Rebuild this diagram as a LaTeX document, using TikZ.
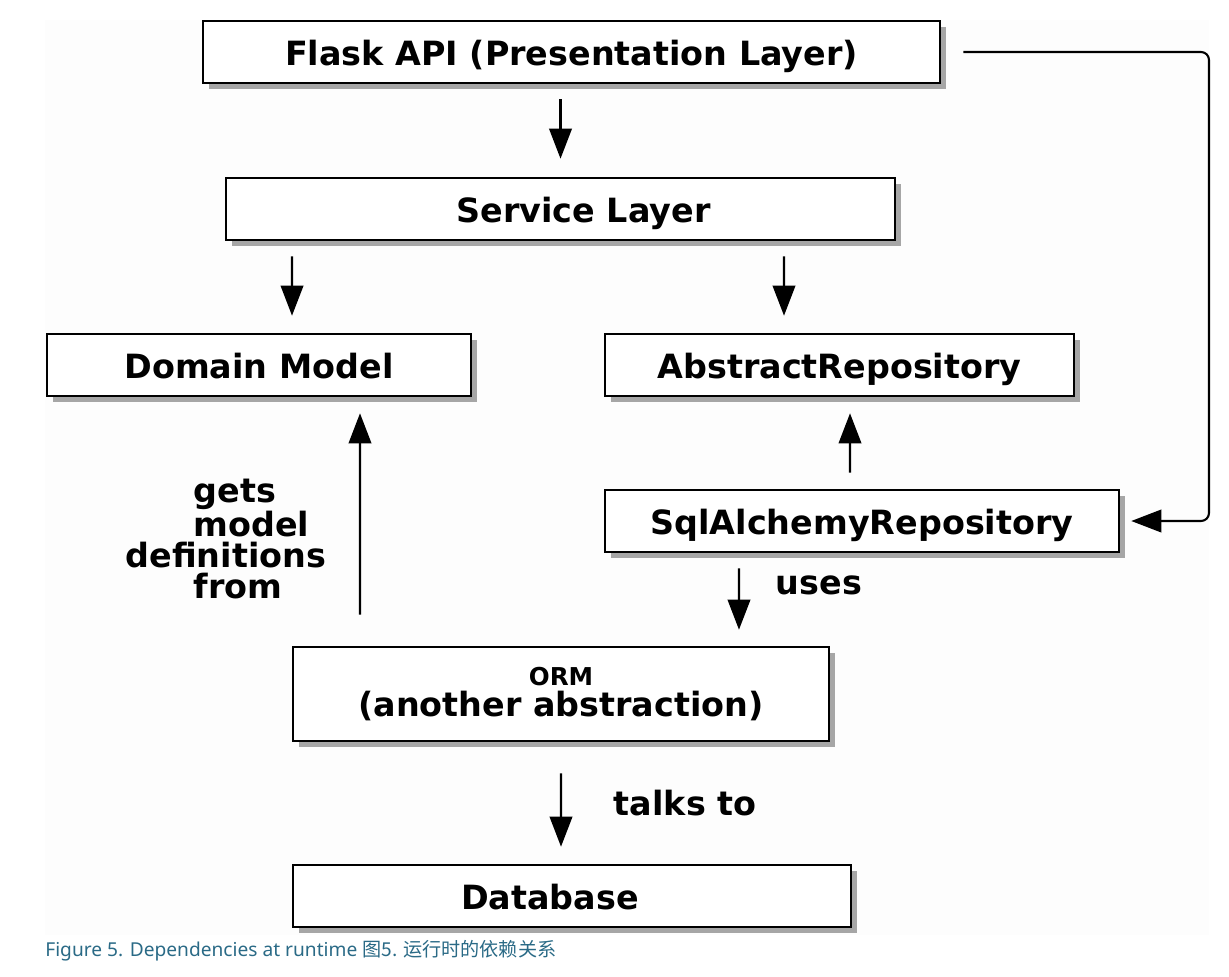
\documentclass[tikz,border=0pt]{standalone}
\usepackage{fontspec}
\setmainfont{DejaVu Sans}
\newfontfamily\capfont{Noto Sans}
\newfontfamily\cjk{Noto Sans CJK SC}
\usepackage{tikz}
\usetikzlibrary{arrows.meta, positioning, shadows}
\definecolor{captionteal}{RGB}{42,106,134}

\begin{document}
\begin{tikzpicture}[
  x=0.02cm, y=-0.02cm,
  box/.style={rectangle, draw, line width=1.5pt, fill=white, minimum height=1.24cm,
    text height=17.5pt, text depth=2.2pt, font=\fontsize{19}{21}\selectfont\bfseries,
    drop shadow={shadow xshift=0.12cm, shadow yshift=-0.12cm, fill=black!35, opacity=1}},
  arrow/.style={-{Triangle[length=0.6cm, width=0.45cm]}, line width=1.2pt},
  lbl/.style={font=\fontsize{19}{17.4}\selectfont\bfseries, align=left}
]
\useasboundingbox (0,0) rectangle (1229,976);
\fill[black!0.6] (45,20) rectangle (1209,935);

% Layers
\node[box, minimum width=14.74cm] (flask) at (571.5,52) {Flask API (Presentation Layer)};
\node[box, minimum width=13.38cm] (service) at (560.5,209) {\hspace*{0.92cm}Service Layer};
\node[box, minimum width=8.48cm] (domain) at (259,365) {Domain Model};
\node[box, minimum width=9.38cm] (absrepo) at (839.5,365) {AbstractRepository};
\node[box, minimum width=10.28cm] (sqlrepo) at (862,521) {SqlAlchemyRepository};
\node[box, minimum width=10.72cm, minimum height=1.88cm, text height=, text depth=, align=center] (orm) at (561,694)
  {{\fontsize{14}{16}\selectfont ORM}\\[-3pt](another abstraction)};
\node[box, minimum width=11.16cm] (db) at (572,896) {Database\hspace*{0.88cm}};

% Downward dependencies
\draw[arrow, shorten <=0.3cm, shorten >=0.36cm] (flask.south -| service.north) -- (service.north);
\draw[arrow, shorten <=0.3cm, shorten >=0.34cm] ([xshift=-5.37cm]service.south) -- ([xshift=0.66cm]domain.north);
\draw[arrow, shorten <=0.3cm, shorten >=0.34cm] ([xshift=4.47cm]service.south) -- ([xshift=-1.11cm]absrepo.north);

% Repository side
\draw[arrow, shorten <=0.32cm, shorten >=0.32cm] ([xshift=-0.24cm]sqlrepo.north) -- ([xshift=0.21cm]absrepo.south);
\draw[arrow, shorten <=0.3cm, shorten >=0.32cm] ([xshift=-2.46cm]sqlrepo.south) --
  node[pos=0.35, right=0.6cm, lbl] (uses) {uses} ([xshift=3.56cm]orm.north);

% ORM links
\draw[arrow, shorten <=0.62cm, shorten >=0.32cm] ([xshift=-4.02cm]orm.north) --
  node[pos=0.43, left=0.54cm, lbl] (gets) {\hspace*{1.36cm}gets\\\hspace*{1.36cm}model\\definitions\\\hspace*{1.36cm}from}
  ([xshift=2.02cm]domain.south);
\draw[arrow, shorten <=0.62cm, shorten >=0.34cm] (orm.south) --
  node[pos=0.5, right=0.92cm, lbl] (talks) {talks to} ([xshift=-0.22cm]db.north);

% Flask uses the concrete repository
\coordinate (bend) at (1209,52);
\draw[arrow, rounded corners=0.16cm] ([xshift=0.44cm]flask.east) -- (bend) |- ([xshift=0.22cm]sqlrepo.east);

% Caption
\node[anchor=west, inner sep=0pt, text=captionteal, font=\fontsize{10.9}{12}\capfont] (caption) at (45,951)
  {Figure 5. Dependencies at runtime {\cjk 图5. 运行时的依赖关系}};
\end{tikzpicture}
\end{document}
